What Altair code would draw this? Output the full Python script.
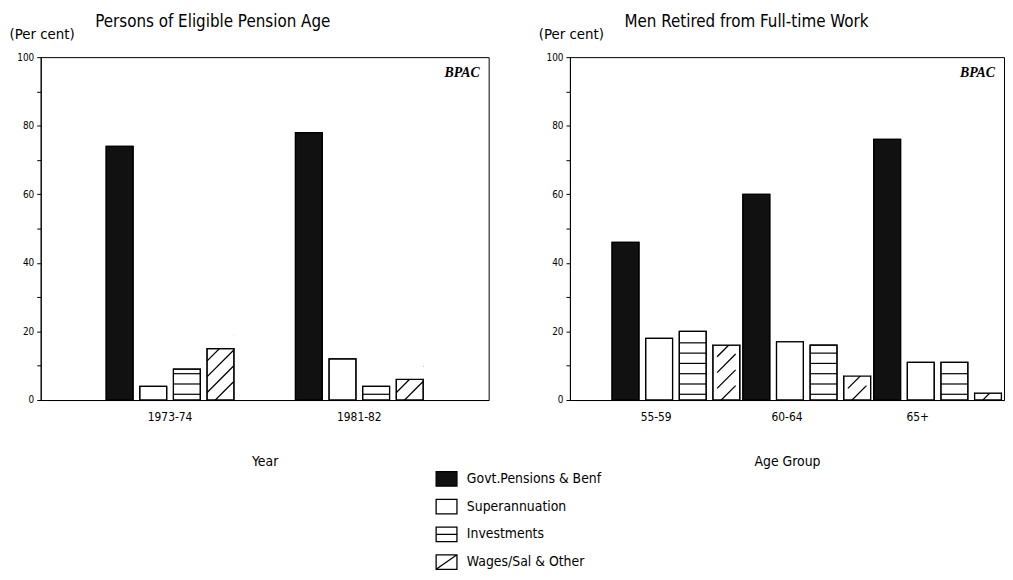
import altair as alt
import pandas as pd

# ---------------- data ----------------
series = ["Govt.Pensions & Benf", "Superannuation", "Investments", "Wages/Sal & Other"]

years = ["1973-74", "1981-82"]
govt_year = [74, 78]
super_year = [4, 12]
invest_year = [9, 4]
wages_year = [15, 6]

ages = ["55-59", "60-64", "65+"]
govt_age = [46, 60, 76]
super_age = [18, 17, 11]
invest_age = [20, 16, 11]
wages_age = [16, 7, 2]

FONT = "Liberation Sans Narrow, DejaVu Sans Condensed, sans-serif"

BOX = "M-1,-0.7H1V0.7H-1Z"
BOX_H = "M-1,-0.7H1V0.7H-1Z M-1,0H1"
BOX_D = "M-1,-0.7H1V0.7H-1Z M-1,0.7L1,-0.7"


def long_table(groups, cols):
    rows = []
    for gi, g in enumerate(groups):
        for s, vals in zip(series, cols):
            rows.append({"group": g, "series": s, "value": vals[gi]})
    return pd.DataFrame(rows)


def hstripes(df):
    # horizontal hatching lines inside the "Investments" bars
    rows = []
    for _, r in df[df.series == "Investments"].iterrows():
        lvl = 1.5
        while lvl < r.value - 1:
            rows.append({"group": r.group, "series": r.series, "level": lvl, "level2": lvl + 0.35})
            lvl += 3
    return pd.DataFrame(rows)


def dstripes(df):
    # diagonal hatching inside the "Wages" bars
    rows = []
    for _, r in df[df.series == "Wages/Sal & Other"].iterrows():
        lvl = 1.5
        while lvl < r.value + 4:
            rows.append({"group": r.group, "series": r.series, "level": lvl})
            lvl += 4.6
    return pd.DataFrame(rows)


fill_scale = alt.Scale(domain=series, range=["#111111", "white", "white", "white"])
shape_scale = alt.Scale(domain=series, range=[BOX, BOX, BOX_H, BOX_D])
stroke_scale = alt.Scale(domain=series, range=["black", "black", "black", "black"])


def make_legend():
    return alt.Legend(
        title=None, orient="none", legendX=398, legendY=414,
        symbolSize=441, symbolOpacity=1, symbolStrokeColor="black",
        symbolStrokeWidth=1.3, labelFont=FONT, labelFontSize=14,
        labelColor="black", rowPadding=6, labelOffset=9,
    )


def panel(groups, cols, title, xtitle, width, pin, pout, slash_size, with_legend):
    df = long_table(groups, cols)
    hs = hstripes(df)
    ds = dstripes(df)
    mask = df[df.series == "Wages/Sal & Other"].copy()
    mask["top"] = mask["value"] + 9

    xaxis = alt.Axis(
        title=xtitle, labelAngle=0, ticks=False, labelPadding=12, titlePadding=32,
        labelFontSize=12, titleFontSize=14, labelFont=FONT, titleFont=FONT,
        titleFontWeight="normal", domainColor="black", labelColor="black", titleColor="black",
    )
    yaxis = alt.Axis(
        values=list(range(0, 101, 10)),
        labelExpr="datum.value % 20 == 0 ? datum.label : ''",
        grid=False, tickSize=4, tickColor="black", domainColor="black",
        labelFontSize=10, labelFont=FONT, labelColor="black", labelPadding=3,
        title="(Per cent)", titleAngle=0, titleAlign="left", titleBaseline="middle",
        titleX=-32, titleY=-24, titleFontSize=15, titleFont=FONT, titleFontWeight="normal",
        titleColor="black",
    )
    x = alt.X("group:N", sort=groups, scale=alt.Scale(paddingInner=pin, paddingOuter=pout), axis=xaxis)
    xo = alt.XOffset("series:N", sort=series, scale=alt.Scale(paddingInner=0.2, paddingOuter=0))
    yscale = alt.Scale(domain=[0, 100], nice=False)

    bars = alt.Chart(df).mark_bar(stroke="black", strokeWidth=1.2).encode(
        x=x, xOffset=xo,
        y=alt.Y("value:Q", scale=yscale, axis=yaxis),
        fill=alt.condition(alt.datum.series == series[0], alt.value("#111111"), alt.value("white")),
    )
    hlines = alt.Chart(hs).mark_bar(color="black").encode(
        x=x, xOffset=xo,
        y=alt.Y("level:Q", scale=yscale, axis=yaxis),
        y2="level2:Q",
    )
    slashes = alt.Chart(ds).mark_point(
        shape="M-1,1L1,-1", size=slash_size, filled=False, stroke="black",
        strokeWidth=1.3, opacity=1, clip=True,
    ).encode(
        x=x, xOffset=xo,
        y=alt.Y("level:Q", scale=yscale, axis=yaxis),
    )
    masks = alt.Chart(mask).mark_bar(color="white", strokeWidth=0).encode(
        x=x, xOffset=xo,
        y=alt.Y("value:Q", scale=yscale, axis=yaxis),
        y2="top:Q",
    )
    outline = alt.Chart(df).mark_bar(fillOpacity=0, stroke="black", strokeWidth=1.2).encode(
        x=x, xOffset=xo,
        y=alt.Y("value:Q", scale=yscale, axis=yaxis),
    )
    bpac = alt.Chart(pd.DataFrame({"t": ["BPAC"]})).mark_text(
        font="Liberation Serif", fontStyle="italic", fontWeight="bold", fontSize=14,
        align="right", baseline="middle", color="black",
    ).encode(text="t:N", x=alt.value(width - 9), y=alt.value(16))

    layers = [bars, hlines, slashes, masks, outline, bpac]
    if with_legend:
        # legend-only layer: points sit below the plot area and are clipped away
        leg = alt.Chart(df).transform_calculate(off="-50").mark_point(
            filled=True, strokeWidth=1.3, opacity=1, clip=True,
        ).encode(
            x=x, xOffset=xo,
            y=alt.Y("off:Q", scale=yscale, axis=yaxis),
            fill=alt.Fill("series:N", scale=fill_scale, legend=make_legend()),
            shape=alt.Shape("series:N", scale=shape_scale, legend=make_legend()),
            stroke=alt.Stroke("series:N", scale=stroke_scale, legend=make_legend()),
        )
        layers.append(leg)

    return alt.layer(*layers).properties(
        width=width, height=346,
        title=alt.TitleParams(
            title, anchor="start", frame="group", dx=55, fontSize=17, font=FONT,
            fontWeight="normal", color="black", offset=-5,
        ),
    )


left = panel(years, [govt_year, super_year, invest_year, wages_year],
             "Persons of Eligible Pension Age", "Year", 452, 0.325, 0.346, 724, True)
right = panel(ages, [govt_age, super_age, invest_age, wages_age],
              "Men Retired from Full-time Work", "Age Group", 438, 0.326, 0.322, 350, False)

chart = alt.hconcat(left, right, spacing=48).properties(
    padding={"top": 2, "left": 0, "right": 0, "bottom": 0}, background="white"
).configure_view(stroke="black", strokeWidth=1)

chart.save("out.html", embed_options={"renderer": "svg", "actions": False})
